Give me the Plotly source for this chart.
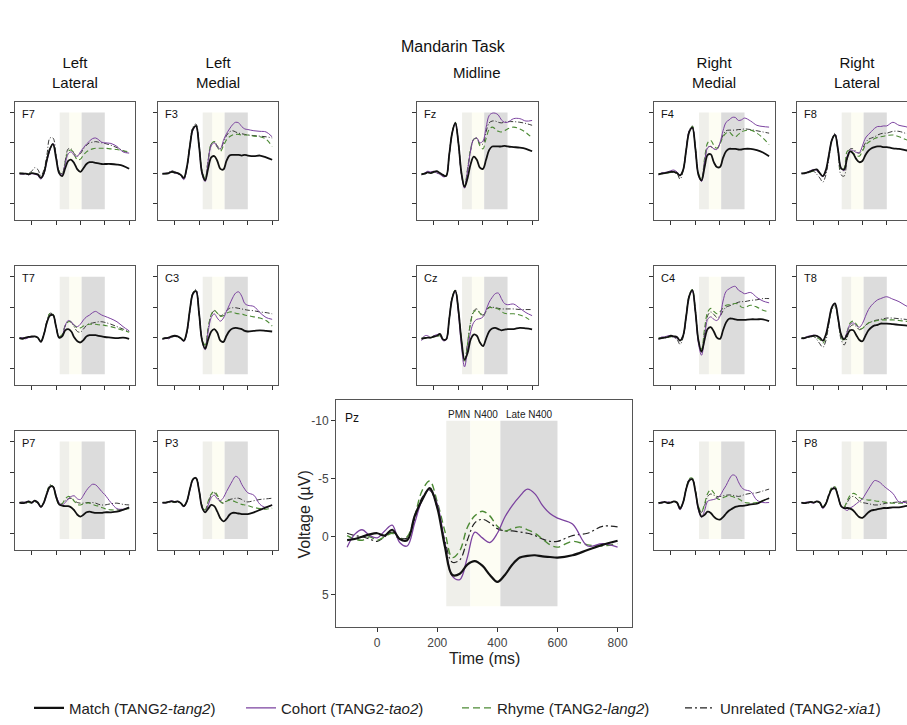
import plotly.graph_objects as go

# ---------------- data (µV, negative plotted upward) ----------------
TIME_MS = [-100, -75, -50, -25, 0, 25, 50, 75, 100, 125, 150, 175, 200, 225, 250, 275,
           300, 325, 350, 375, 400, 425, 450, 475, 500, 525, 550, 575, 600, 650, 700, 750, 800]

F7_match = [0.1,0.1,0.1,0.2,0.0,0.1,0.2,0.8,0.0,-2.2,-4.0,-4.8,-2.5,0.0,0.5,-0.8,-2.0,-2.2,-1.6,-0.6,-0.2,-0.8,-1.5,-1.8,-1.8,-1.7,-1.6,-1.5,-1.5,-1.5,-1.4,-1.2,-0.7]
F7_cohort = [0.1,0.2,0.1,0.3,0.1,0.2,0.4,1.0,0.2,-2.0,-3.8,-4.9,-2.8,-0.2,0.3,-1.5,-3.2,-3.5,-2.9,-2.8,-3.5,-4.2,-4.8,-5.3,-5.7,-5.8,-5.5,-5.1,-5.0,-4.9,-4.4,-3.5,-3.3]
F7_rhyme = [0.0,0.1,0.2,0.1,0.0,0.0,0.3,0.9,0.0,-2.2,-4.0,-4.9,-2.8,-0.3,0.3,-1.8,-3.6,-3.8,-3.0,-2.2,-2.3,-3.0,-3.5,-3.8,-4.0,-4.1,-4.1,-4.1,-4.1,-4.0,-3.9,-3.7,-3.5]
F7_unrel = [0.0,0.0,0.1,0.0,-0.3,-0.9,-0.6,0.4,-0.5,-3.0,-5.8,-5.8,-3.0,-0.3,0.1,-2.0,-4.0,-4.0,-3.2,-2.8,-3.2,-4.0,-4.6,-5.0,-5.1,-5.2,-5.1,-5.0,-4.9,-4.6,-4.2,-3.7,-3.3]

F3_match = [0.1,0.1,0.0,-0.2,-0.1,0.0,0.3,0.8,-1.0,-4.5,-7.3,-7.8,-4.5,0.0,1.2,-0.8,-2.6,-2.8,-2.0,-0.7,-0.6,-2.0,-2.9,-3.0,-3.0,-3.0,-2.9,-3.0,-2.9,-2.8,-2.9,-2.6,-2.2]
F3_cohort = [0.2,0.0,0.1,-0.3,0.0,0.1,0.4,1.1,-0.8,-4.3,-7.1,-7.7,-4.5,0.2,1.4,-2.0,-4.5,-5.0,-4.3,-4.0,-5.4,-6.5,-7.3,-8.0,-8.4,-8.3,-7.7,-7.3,-7.2,-7.0,-6.9,-6.8,-6.0]
F3_rhyme = [0.1,0.1,0.0,-0.2,0.0,0.1,0.3,0.9,-0.9,-4.5,-7.2,-7.8,-4.6,-0.3,0.9,-2.2,-4.8,-5.2,-4.3,-3.6,-4.5,-5.5,-6.0,-6.3,-6.4,-6.4,-6.3,-6.3,-6.3,-6.1,-6.0,-5.6,-4.4]
F3_unrel = [0.1,0.1,-0.1,-0.4,-0.2,0.0,0.3,0.9,-1.0,-4.7,-7.6,-8.1,-4.7,-0.2,1.0,-2.3,-4.8,-5.2,-4.5,-4.0,-5.0,-6.2,-6.8,-7.0,-6.8,-6.6,-6.5,-6.4,-6.3,-6.2,-6.1,-6.0,-5.8]

Fz_match = [0.2,0.1,-0.1,0.0,-0.2,-0.3,0.0,0.3,0.5,-3.0,-6.7,-8.3,-5.0,0.0,2.3,0.8,-1.5,-2.7,-2.2,-0.9,-0.7,-2.2,-3.8,-4.4,-4.4,-4.4,-4.4,-4.5,-4.4,-4.3,-4.2,-4.0,-3.6]
Fz_cohort = [0.3,0.0,-0.3,-0.2,-0.3,0.0,0.2,0.6,0.5,-3.0,-6.7,-8.2,-5.0,0.3,2.5,-0.5,-3.8,-5.6,-5.8,-5.0,-5.3,-7.5,-9.5,-9.9,-9.9,-9.6,-8.8,-8.4,-8.4,-9.0,-9.0,-8.6,-8.7]
Fz_rhyme = [0.1,0.1,-0.1,0.0,-0.1,0.0,0.1,0.5,0.4,-3.0,-6.8,-8.4,-5.0,0.0,2.2,-0.8,-4.0,-5.6,-5.7,-4.5,-4.0,-5.7,-7.2,-7.6,-7.3,-6.9,-6.8,-7.0,-7.3,-7.6,-7.3,-6.7,-5.8]
Fz_unrel = [0.2,0.1,0.0,-0.1,-0.2,-0.1,0.1,0.5,0.5,-3.0,-6.8,-8.3,-5.0,0.2,2.3,-0.5,-3.8,-5.6,-5.8,-4.8,-4.8,-6.8,-8.3,-8.6,-8.6,-8.4,-8.3,-8.4,-8.5,-8.5,-8.4,-8.2,-7.9]

F4_match = [0.2,0.1,0.0,-0.1,-0.2,-0.2,0.0,0.4,-0.5,-3.8,-6.8,-7.5,-4.0,0.3,1.2,-1.0,-3.0,-3.1,-1.8,-1.0,-1.0,-2.5,-3.6,-4.0,-4.0,-4.0,-3.9,-3.9,-4.0,-4.0,-3.8,-3.4,-2.8]
F4_cohort = [0.3,0.0,-0.1,-0.2,-0.4,-0.5,-0.2,0.3,-0.5,-3.8,-7.0,-7.5,-4.0,0.3,1.4,-1.8,-4.2,-4.4,-4.0,-3.9,-5.0,-7.0,-8.4,-8.8,-9.2,-9.2,-8.7,-8.8,-9.1,-8.6,-7.9,-7.7,-7.6]
F4_rhyme = [0.1,0.1,0.0,0.0,-0.1,-0.1,0.0,0.4,-0.5,-3.8,-6.9,-7.7,-4.2,0.0,0.9,-2.5,-5.0,-5.4,-4.6,-4.1,-4.8,-6.0,-6.6,-6.8,-6.3,-6.0,-6.4,-6.8,-7.0,-7.1,-6.6,-5.8,-4.7]
F4_unrel = [0.2,0.0,0.0,-0.1,-0.2,-0.1,0.1,1.0,-0.3,-3.8,-7.0,-7.8,-4.2,0.2,1.1,-2.0,-4.2,-4.4,-4.0,-4.0,-4.9,-6.3,-7.0,-7.1,-7.1,-7.1,-7.2,-7.2,-7.3,-7.2,-7.0,-6.8,-6.6]

F8_match = [0.1,0.0,-0.1,-0.3,-0.5,-0.6,0.0,0.5,-0.5,-3.0,-5.5,-6.3,-3.8,-0.8,-0.6,-2.5,-3.6,-3.2,-2.3,-1.8,-2.0,-3.0,-3.7,-4.1,-4.3,-4.4,-4.4,-4.3,-4.3,-4.1,-4.0,-3.8,-3.6]
F8_cohort = [0.0,0.1,-0.2,-0.4,-0.6,-0.4,0.1,0.6,-0.3,-3.0,-5.5,-6.4,-4.0,-0.8,-0.4,-2.8,-3.8,-3.7,-3.4,-3.4,-4.5,-5.8,-6.4,-6.9,-7.4,-7.7,-7.7,-7.8,-7.8,-8.4,-7.9,-7.7,-7.4]
F8_rhyme = [0.1,0.0,-0.1,-0.2,-0.4,-0.3,0.0,0.5,-0.3,-3.0,-5.5,-6.2,-3.8,-0.5,-0.8,-3.6,-3.8,-3.3,-2.9,-2.8,-3.6,-4.6,-5.1,-5.4,-5.7,-5.9,-6.0,-6.1,-6.2,-6.3,-6.0,-5.6,-5.2]
F8_unrel = [0.0,0.1,0.0,-0.2,-0.3,0.2,0.8,1.5,0.3,-2.5,-5.5,-6.6,-3.5,0.3,0.5,-2.5,-4.0,-4.0,-3.5,-3.3,-4.0,-5.0,-5.6,-5.8,-6.0,-6.3,-6.5,-6.6,-6.6,-6.9,-6.9,-6.6,-6.3]

T7_match = [0.1,0.2,0.0,-0.1,-0.2,-0.2,0.0,0.7,-0.5,-2.5,-3.6,-3.7,-1.8,0.0,-0.2,-1.2,-1.4,-1.0,0.0,0.6,0.8,0.4,-0.2,-0.4,-0.4,-0.4,-0.3,-0.2,-0.1,0.0,0.1,0.0,0.2]
T7_cohort = [0.1,0.0,0.2,0.0,-0.1,-0.2,0.0,0.7,-0.5,-2.5,-3.7,-3.7,-1.8,0.0,-0.3,-2.0,-2.8,-2.6,-2.0,-1.8,-2.2,-2.9,-3.4,-3.7,-4.1,-4.3,-4.0,-3.7,-3.5,-3.1,-2.6,-1.8,-1.1]
T7_rhyme = [0.0,0.1,0.0,-0.1,-0.1,-0.2,0.0,0.6,-0.5,-2.6,-4.0,-3.8,-1.8,-0.2,-0.5,-2.0,-2.6,-2.6,-2.0,-1.6,-1.6,-1.9,-2.1,-2.2,-2.2,-2.2,-2.1,-2.1,-2.0,-1.8,-1.5,-1.2,-0.9]
T7_unrel = [0.1,0.0,0.1,0.0,-0.1,-0.1,0.1,0.6,-0.6,-2.7,-4.0,-3.8,-1.8,-0.1,-0.3,-1.9,-2.6,-2.5,-1.7,-1.0,-0.9,-1.4,-2.0,-2.3,-2.4,-2.5,-2.6,-2.6,-2.5,-2.2,-1.8,-1.4,-1.0]

C3_match = [0.2,0.1,0.0,-0.2,-0.3,-0.2,0.1,0.5,-1.0,-4.6,-7.2,-7.6,-4.0,0.5,1.8,0.3,-1.0,-1.4,-0.8,0.5,0.7,-0.3,-1.1,-1.5,-1.6,-1.5,-1.4,-1.1,-1.0,-1.1,-1.2,-1.1,-1.0]
C3_cohort = [0.3,0.0,0.2,-0.1,-0.2,-0.2,0.1,0.6,-0.8,-4.4,-7.2,-7.7,-4.0,0.5,2.0,-1.0,-3.3,-3.9,-3.2,-2.7,-3.2,-4.3,-5.4,-6.5,-7.3,-7.5,-6.8,-5.6,-5.3,-5.1,-4.1,-3.3,-3.0]
C3_rhyme = [0.1,0.1,0.0,-0.1,-0.2,-0.1,0.1,0.5,-0.9,-4.5,-7.3,-7.7,-4.0,0.3,1.2,-1.6,-3.8,-4.5,-4.0,-3.5,-3.6,-4.0,-4.2,-4.2,-4.0,-3.9,-3.9,-3.7,-3.6,-3.4,-3.2,-2.8,-1.9]
C3_unrel = [0.2,0.0,0.1,-0.2,-0.2,-0.1,0.1,0.6,-0.9,-4.5,-7.4,-7.9,-4.1,0.3,1.5,-1.5,-3.7,-4.4,-4.0,-3.6,-3.8,-4.4,-4.8,-4.9,-4.9,-4.8,-4.7,-4.6,-4.5,-4.4,-4.2,-4.1,-3.9]

Cz_match = [0.2,0.1,0.0,0.0,-0.2,-0.3,-0.6,0.3,0.3,-3.0,-6.5,-7.7,-4.5,0.5,3.6,2.5,0.3,-0.5,-0.3,0.8,1.4,0.2,-1.0,-1.5,-1.6,-1.4,-1.2,-1.3,-1.4,-1.4,-1.6,-1.5,-1.35]
Cz_cohort = [0.5,-0.3,-0.3,0.0,-0.3,-0.5,-0.5,0.5,0.4,-3.0,-6.5,-7.6,-4.0,1.5,4.8,2.0,-1.0,-2.5,-3.0,-3.1,-3.4,-4.5,-5.8,-6.6,-7.2,-7.3,-6.4,-5.6,-5.4,-5.5,-4.8,-4.1,-3.6]
Cz_rhyme = [0.1,0.0,0.1,0.0,-0.1,-0.2,-0.3,0.3,0.3,-3.0,-6.6,-7.8,-4.5,0.5,4.1,1.0,-2.5,-4.2,-4.5,-4.0,-3.5,-4.3,-4.9,-4.9,-4.8,-4.7,-4.3,-4.0,-3.9,-3.9,-3.7,-3.3,-2.6]
Cz_unrel = [0.1,0.1,0.0,0.0,-0.1,-0.2,-0.3,0.3,0.2,-3.0,-6.7,-7.8,-4.5,0.5,3.9,0.8,-2.6,-4.4,-4.7,-4.1,-3.7,-4.4,-5.0,-5.0,-4.9,-4.8,-4.7,-4.7,-4.7,-4.7,-4.6,-4.6,-4.6]

C4_match = [0.2,0.1,0.0,-0.1,-0.3,-0.2,-0.1,0.5,-0.3,-3.5,-6.8,-7.8,-4.3,0.5,2.3,0.3,-1.4,-1.7,-1.0,0.0,0.2,-1.2,-2.5,-3.1,-3.1,-3.0,-2.9,-2.9,-2.9,-3.0,-3.0,-3.0,-2.7]
C4_cohort = [0.3,-0.1,-0.1,-0.3,-0.3,-0.1,0.1,0.5,-0.3,-3.5,-6.8,-7.6,-4.2,1.0,2.9,0.0,-3.0,-3.4,-3.0,-2.8,-3.5,-6.0,-7.6,-8.0,-8.3,-8.4,-7.8,-7.5,-7.2,-7.4,-6.6,-6.0,-5.7]
C4_rhyme = [0.1,0.0,0.0,-0.1,-0.1,-0.1,0.0,0.5,-0.3,-3.6,-7.0,-7.9,-4.4,0.5,1.9,-1.5,-4.2,-4.8,-4.3,-3.9,-4.2,-4.9,-5.3,-5.4,-5.5,-5.6,-5.5,-5.0,-4.9,-5.3,-5.0,-4.5,-4.2]
C4_unrel = [0.1,0.0,0.1,-0.1,-0.2,0.0,0.3,1.1,0.0,-3.4,-6.8,-7.8,-4.4,0.6,2.4,-0.8,-3.6,-4.2,-3.8,-3.3,-3.5,-4.4,-5.0,-5.2,-5.4,-5.6,-5.8,-5.9,-5.9,-6.1,-6.2,-6.4,-6.4]

T8_match = [0.1,0.1,-0.1,-0.2,-0.3,-0.3,0.0,0.5,-0.5,-2.8,-5.0,-5.6,-3.2,-0.5,0.3,-0.5,-1.2,-1.2,-0.4,0.4,0.6,-0.3,-1.2,-1.7,-2.0,-2.1,-2.3,-2.3,-2.3,-2.2,-2.1,-2.0,-1.9]
T8_cohort = [0.2,0.0,-0.2,-0.3,-0.4,-0.3,0.0,0.5,-0.4,-2.8,-5.0,-5.5,-3.2,-0.5,0.2,-1.0,-2.2,-2.4,-2.0,-1.7,-2.3,-3.5,-4.6,-5.3,-5.8,-6.2,-6.4,-6.6,-6.7,-6.3,-5.9,-5.3,-4.8]
T8_rhyme = [0.1,0.0,-0.1,-0.2,-0.2,0.0,0.3,0.9,-0.2,-2.6,-4.8,-5.3,-3.0,-0.2,0.6,-1.0,-2.4,-2.7,-2.2,-1.5,-1.5,-2.0,-2.4,-2.6,-2.7,-2.8,-2.9,-2.9,-2.9,-2.9,-2.8,-2.7,-2.6]
T8_unrel = [0.1,0.0,0.0,-0.1,-0.2,0.3,1.0,1.6,0.5,-2.3,-4.6,-5.2,-3.0,0.3,1.2,0.0,-1.8,-2.1,-1.8,-1.3,-1.5,-2.0,-2.4,-2.6,-2.8,-2.9,-3.0,-3.1,-3.2,-3.2,-3.1,-3.0,-2.9]

P7_match = [0.0,0.1,0.0,-0.2,0.0,-0.3,0.0,0.7,0.0,-1.5,-2.6,-2.6,-1.0,0.3,0.5,0.6,0.6,0.8,1.3,2.0,2.3,2.0,1.6,1.5,1.6,1.7,1.7,1.7,1.6,1.6,1.5,1.2,0.8]
P7_cohort = [0.1,0.0,-0.1,-0.2,0.1,-0.2,0.1,0.8,0.1,-1.3,-2.5,-2.6,-1.2,0.0,0.4,0.0,-0.6,-1.0,-1.1,-0.6,-0.5,-1.2,-2.0,-2.6,-3.0,-2.9,-2.4,-1.8,-1.3,0.0,1.0,1.1,0.9]
P7_rhyme = [0.0,0.0,-0.1,0.0,0.1,-0.1,0.0,0.7,0.0,-1.6,-2.8,-2.6,-0.8,0.3,0.2,-0.6,-1.0,-0.8,-0.2,0.3,0.4,0.2,0.1,0.1,0.3,0.5,0.6,0.8,1.0,1.2,1.2,1.1,1.0]
P7_unrel = [0.0,-0.1,0.1,0.0,0.0,-0.2,0.1,0.6,-0.1,-1.7,-2.9,-2.7,-0.8,0.3,0.2,-0.3,-0.6,-0.7,-0.3,0.0,0.1,0.1,0.0,0.0,0.0,0.1,0.3,0.4,0.4,0.2,0.1,0.3,0.4]

P3_match = [0.0,0.0,-0.1,-0.2,-0.1,-0.2,0.1,0.6,-0.2,-2.2,-3.8,-4.0,-2.0,0.8,1.6,1.0,0.4,0.6,1.5,2.6,3.1,2.7,2.0,1.7,1.7,1.8,1.9,1.9,1.9,1.6,1.2,0.8,0.4]
P3_cohort = [0.1,0.0,-0.1,-0.3,-0.1,-0.2,0.1,0.7,-0.1,-2.0,-3.7,-4.0,-2.0,0.8,1.6,0.4,-0.8,-1.2,-0.6,-0.3,-0.8,-1.8,-2.7,-3.6,-4.3,-4.0,-3.0,-2.2,-1.6,-1.2,0.3,0.8,0.4]
P3_rhyme = [0.0,0.0,0.0,-0.2,0.0,-0.1,0.1,0.6,-0.2,-2.2,-3.8,-4.0,-2.0,0.5,1.2,-0.2,-1.4,-1.8,-1.2,-0.2,0.1,-0.2,-0.4,-0.3,-0.1,0.1,0.3,0.4,0.5,0.8,1.0,1.1,0.9]
P3_unrel = [0.0,0.1,0.0,-0.1,0.0,-0.1,0.1,0.5,-0.2,-2.2,-3.9,-4.1,-2.1,0.6,1.3,0.0,-1.2,-1.6,-1.0,-0.1,0.1,-0.3,-0.5,-0.6,-0.7,-0.7,-0.5,-0.2,-0.1,-0.3,-0.5,-0.6,-0.7]

Pz_match = [0.3,0.2,0.0,-0.2,-0.3,-0.1,-0.6,0.2,0.3,-1.8,-3.2,-4.2,-2.5,0.8,3.3,3.2,2.4,2.1,2.5,3.3,3.9,3.3,2.4,1.8,1.65,1.6,1.7,1.75,1.8,1.6,1.15,0.7,0.35]
Pz_cohort = [0.9,-0.2,-0.6,-0.1,0.1,-0.5,-1.0,0.5,0.8,-1.2,-3.2,-4.1,-2.8,0.5,3.4,3.7,1.8,-0.4,0.1,0.5,-0.3,-1.7,-2.7,-3.5,-4.1,-3.7,-2.7,-2.0,-1.6,-1.1,0.8,0.6,0.9]
Pz_rhyme = [-0.1,0.2,0.3,0.0,0.3,0.0,-0.3,0.2,0.0,-1.8,-4.0,-4.8,-3.0,-0.5,1.8,1.2,-0.8,-1.8,-2.2,-1.8,-0.9,-0.5,-0.7,-0.85,-0.6,-0.3,0.2,0.7,0.9,0.4,0.7,0.8,0.6]
Pz_unrel = [-0.3,-0.1,0.0,0.2,0.4,0.0,-0.4,0.1,0.1,-1.5,-3.4,-4.0,-2.5,0.3,2.2,2.0,0.3,-1.2,-1.5,-1.2,-0.7,-0.5,-0.5,-0.4,-0.3,-0.1,0.2,0.4,0.4,-0.1,-0.3,-0.9,-0.85]

P4_match = [0.1,0.0,-0.1,0.1,0.0,-0.2,0.0,1.0,0.0,-2.2,-3.6,-3.8,-1.8,1.0,2.3,2.0,1.5,1.7,2.3,2.7,2.8,2.4,1.8,1.3,1.0,0.7,0.6,0.55,0.5,0.3,0.2,-0.3,-0.7]
P4_cohort = [0.2,-0.1,0.0,-0.1,0.0,-0.2,0.1,1.2,0.0,-2.2,-3.7,-3.8,-1.8,1.3,2.4,1.3,-0.2,-0.4,-0.5,-0.7,-1.1,-2.0,-2.8,-3.8,-4.5,-4.4,-3.4,-2.5,-2.1,-1.8,-0.4,0.0,0.0]
P4_rhyme = [0.0,0.0,0.0,0.0,0.0,-0.1,0.0,0.9,0.0,-2.3,-3.9,-4.0,-2.0,0.7,1.5,0.2,-1.5,-2.1,-1.6,-0.7,-0.5,-0.8,-1.0,-1.1,-1.0,-0.8,-0.6,-0.3,0.0,0.1,0.0,-0.3,-0.7]
P4_unrel = [0.0,0.1,0.0,-0.1,0.0,-0.1,0.1,0.8,-0.1,-2.3,-3.8,-3.9,-1.9,0.8,1.6,0.5,-1.0,-1.4,-1.2,-1.0,-1.0,-1.1,-1.2,-1.25,-1.2,-1.1,-1.0,-1.1,-1.3,-1.5,-1.6,-1.9,-2.2]

P8_match = [0.0,0.1,0.0,-0.1,0.0,-0.2,0.0,0.8,0.2,-1.2,-2.2,-2.3,-1.0,0.6,0.9,0.9,1.0,1.3,1.9,2.4,2.5,2.1,1.6,1.3,1.2,1.1,1.0,0.9,0.9,0.8,0.8,0.6,0.4]
P8_cohort = [0.1,0.0,-0.1,0.0,0.1,-0.2,0.0,1.0,0.2,-1.2,-2.2,-2.4,-1.0,0.5,1.0,1.3,0.9,0.6,0.2,-0.2,-0.6,-1.4,-2.2,-3.0,-3.6,-3.5,-3.2,-2.7,-2.3,-1.5,-0.1,0.0,0.1]
P8_rhyme = [0.0,0.0,0.0,-0.1,0.0,-0.1,0.0,0.7,0.1,-1.4,-2.5,-2.6,-1.1,0.5,0.7,-0.3,-1.2,-1.5,-1.3,-0.8,-0.6,-0.5,-0.4,-0.4,-0.3,-0.2,-0.2,-0.1,0.0,0.1,0.1,0.1,0.1]
P8_unrel = [0.0,0.0,0.1,0.0,0.0,-0.1,0.1,0.8,0.1,-1.3,-2.4,-2.5,-1.0,0.6,0.9,0.0,-0.8,-1.0,-0.7,-0.2,0.0,0.1,0.2,0.3,0.4,0.4,0.3,0.2,0.1,0.0,-0.1,-0.2,-0.3]

CONDITION_NAMES = ["Match (TANG2-<i>tang2</i>)", "Cohort (TANG2-<i>tao2</i>)",
                   "Rhyme (TANG2-<i>lang2</i>)", "Unrelated (TANG2-<i>xia1</i>)"]
WINDOW_LABELS = ["PMN", "N400", "Late N400"]
WINDOW_LABEL_MS = [272, 362, 508]
WINDOW_MS = [(230, 310), (310, 410), (410, 600)]
WINDOW_UV = (-10, 6)
X_TICKS = [0, 200, 400, 600, 800]
Y_TICKS = [-10, -5, 0, 5]
Y_TICK_TEXT = ["-10", "-5", "0", "5"]

ELECTRODES = {
    "F7": [F7_match, F7_cohort, F7_rhyme, F7_unrel],
    "F3": [F3_match, F3_cohort, F3_rhyme, F3_unrel],
    "Fz": [Fz_match, Fz_cohort, Fz_rhyme, Fz_unrel],
    "F4": [F4_match, F4_cohort, F4_rhyme, F4_unrel],
    "F8": [F8_match, F8_cohort, F8_rhyme, F8_unrel],
    "T7": [T7_match, T7_cohort, T7_rhyme, T7_unrel],
    "C3": [C3_match, C3_cohort, C3_rhyme, C3_unrel],
    "Cz": [Cz_match, Cz_cohort, Cz_rhyme, Cz_unrel],
    "C4": [C4_match, C4_cohort, C4_rhyme, C4_unrel],
    "T8": [T8_match, T8_cohort, T8_rhyme, T8_unrel],
    "P7": [P7_match, P7_cohort, P7_rhyme, P7_unrel],
    "P3": [P3_match, P3_cohort, P3_rhyme, P3_unrel],
    "P4": [P4_match, P4_cohort, P4_rhyme, P4_unrel],
    "P8": [P8_match, P8_cohort, P8_rhyme, P8_unrel],
    "Pz": [Pz_match, Pz_cohort, Pz_rhyme, Pz_unrel],
}
for k, v in ELECTRODES.items():
    for s in v:
        assert len(s) == len(TIME_MS), (k, len(s))

# ---------------- layout ----------------
FW, FH = 907, 725
FONT = "Liberation Sans, Arial, sans-serif"
FRAME = "#555555"


def px_x(x):
    return x / FW


def px_y(y):
    return 1 - y / FH


COLS = {"LL": (15, 135), "LM": (158, 278), "MID": (417, 538), "RM": (654, 775), "RL": (797, 907)}
ROWS = {1: (103, 223), 2: (269, 390), 3: (436, 557)}
PANELS = [("F7", "LL", 1), ("F3", "LM", 1), ("Fz", "MID", 1), ("F4", "RM", 1), ("F8", "RL", 1),
          ("T7", "LL", 2), ("C3", "LM", 2), ("Cz", "MID", 2), ("C4", "RM", 2), ("T8", "RL", 2),
          ("P7", "LL", 3), ("P3", "LM", 3), ("P4", "RM", 3), ("P8", "RL", 3)]

X_RANGE = [-137, 848]
MS_PER_PX_SMALL = (X_RANGE[1] - X_RANGE[0]) / 120.0
Y_RANGE = [7.8, -11.8]

SHADE_COLORS = ["#EFEFEA", "#FDFDF3", "#DCDCDC"]

SMALL_STYLE = [dict(color="#111111", width=1.8),
               dict(color="#7B429F", width=1.0),
               dict(color="#4C8A34", width=1.1, dash="5px,3px"),
               dict(color="#222222", width=0.9, dash="5px,2px,1px,2px")]
BIG_STYLE = [dict(color="#111111", width=2.2),
             dict(color="#7B429F", width=1.3),
             dict(color="#4C8A34", width=1.4, dash="7px,4px"),
             dict(color="#222222", width=1.2, dash="7px,3px,2px,3px")]

fig = go.Figure()
layout = dict(width=FW, height=FH, margin=dict(l=0, r=0, t=0, b=0),
              paper_bgcolor="white", plot_bgcolor="white",
              font=dict(family=FONT, color="#222222"),
              shapes=[], annotations=[])


def add_panel(k, name, xl, xr, yt, yb, xrange, big=False, right_cut=False):
    xa = "xaxis" if k == 1 else f"xaxis{k}"
    ya = "yaxis" if k == 1 else f"yaxis{k}"
    xref = "x" if k == 1 else f"x{k}"
    yref = "y" if k == 1 else f"y{k}"
    layout[xa] = dict(domain=[px_x(xl), min(1.0, px_x(xr))], range=xrange, anchor=yref,
                      showgrid=False, zeroline=False, showline=True, mirror=True,
                      linecolor=FRAME, linewidth=1, ticks="outside", ticklen=4,
                      tickcolor="#333333", tickvals=X_TICKS, showticklabels=big,
                      tickfont=dict(size=12, color="#444444"), fixedrange=True)
    layout[ya] = dict(domain=[px_y(yb), px_y(yt)], range=Y_RANGE, anchor=xref,
                      showgrid=False, zeroline=False, showline=True,
                      mirror=(not right_cut), linecolor=FRAME, linewidth=1,
                      ticks="outside", ticklen=4, tickcolor="#333333",
                      tickvals=Y_TICKS, ticktext=Y_TICK_TEXT, showticklabels=big,
                      tickfont=dict(size=12, color="#444444"), fixedrange=True)
    for (a, b), c in zip(WINDOW_MS, SHADE_COLORS):
        layout["shapes"].append(dict(type="rect", xref=xref, yref=yref, x0=a, x1=b,
                                     y0=WINDOW_UV[0], y1=WINDOW_UV[1], fillcolor=c,
                                     line=dict(width=0), layer="below"))
    styles = BIG_STYLE if big else SMALL_STYLE
    series = ELECTRODES[name]
    for i in [3, 2, 1, 0]:
        fig.add_trace(go.Scatter(
            x=TIME_MS, y=series[i], mode="lines",
            line=dict(shape="spline", smoothing=1.0, **styles[i]),
            xaxis=xref, yaxis=yref, name=CONDITION_NAMES[i], showlegend=big,
            legend=["legend", "legend2", "legend3", "legend4"][i], hoverinfo="skip"))
    layout["annotations"].append(dict(text=name, xref=f"{xref} domain", yref=f"{yref} domain",
                                      x=0, y=1, xanchor="left", yanchor="top",
                                      xshift=5 if not big else 7, yshift=-4 if not big else -9,
                                      showarrow=False,
                                      font=dict(size=11 if not big else 12, color="#111111")))
    if big:
        for lab, cx in zip(WINDOW_LABELS, WINDOW_LABEL_MS):
            layout["annotations"].append(dict(text=lab, xref=xref, yref=yref, x=cx, y=WINDOW_UV[0],
                                              yanchor="middle", xanchor="center", yshift=6,
                                              showarrow=False, font=dict(size=10, color="#222222")))


k = 1
for name, col, row in PANELS:
    xl, xr = COLS[col]
    yt, yb = ROWS[row]
    right_cut = col == "RL"
    xrange = [X_RANGE[0], X_RANGE[0] + (xr - xl) * MS_PER_PX_SMALL] if right_cut else X_RANGE
    add_panel(k, name, xl, xr, yt, yb, xrange, right_cut=right_cut)
    k += 1
add_panel(k, "Pz", 336, 632, 405, 635, X_RANGE, big=True)

# axis titles of the Pz panel
layout["annotations"].append(dict(text="Voltage (µV)", xref="paper", yref="paper", x=px_x(305),
                                  y=px_y(521), textangle=-90, xanchor="center", yanchor="middle",
                                  showarrow=False, font=dict(size=16, color="#222222")))
layout["annotations"].append(dict(text="Time (ms)", xref="paper", yref="paper", x=px_x(484),
                                  y=px_y(667), xanchor="center", yanchor="middle",
                                  showarrow=False, font=dict(size=16, color="#222222")))

# titles
layout["annotations"].append(dict(text="Mandarin Task", xref="paper", yref="paper", x=px_x(453),
                                  y=px_y(47), xanchor="center", yanchor="middle", showarrow=False,
                                  font=dict(size=16, color="#111111")))
HEADERS = [("Left<br>Lateral", 75), ("Left<br>Medial", 218), ("Midline", 477),
           ("Right<br>Medial", 714), ("Right<br>Lateral", 857)]
for txt, cx in HEADERS:
    layout["annotations"].append(dict(text=txt, xref="paper", yref="paper", x=px_x(cx), y=px_y(73),
                                      xanchor="center", yanchor="middle", showarrow=False,
                                      font=dict(size=15, color="#111111")))

# legends
LEG_X = [35, 247, 463, 686]
for i, lx in enumerate(LEG_X):
    key = "legend" if i == 0 else f"legend{i + 1}"
    layout[key] = dict(x=px_x(lx - 6), y=px_y(717), xanchor="left", yanchor="middle",
                       orientation="h", bgcolor="rgba(0,0,0,0)", borderwidth=0,
                       font=dict(size=15, color="#222222", family=FONT), itemwidth=30)

fig.update_layout(**layout)
# remove the default 8px page margin so the figure fills the window exactly
fig.write_html("out.html", config={"displayModeBar": False},
               post_script="document.body.style.margin='0px';")
